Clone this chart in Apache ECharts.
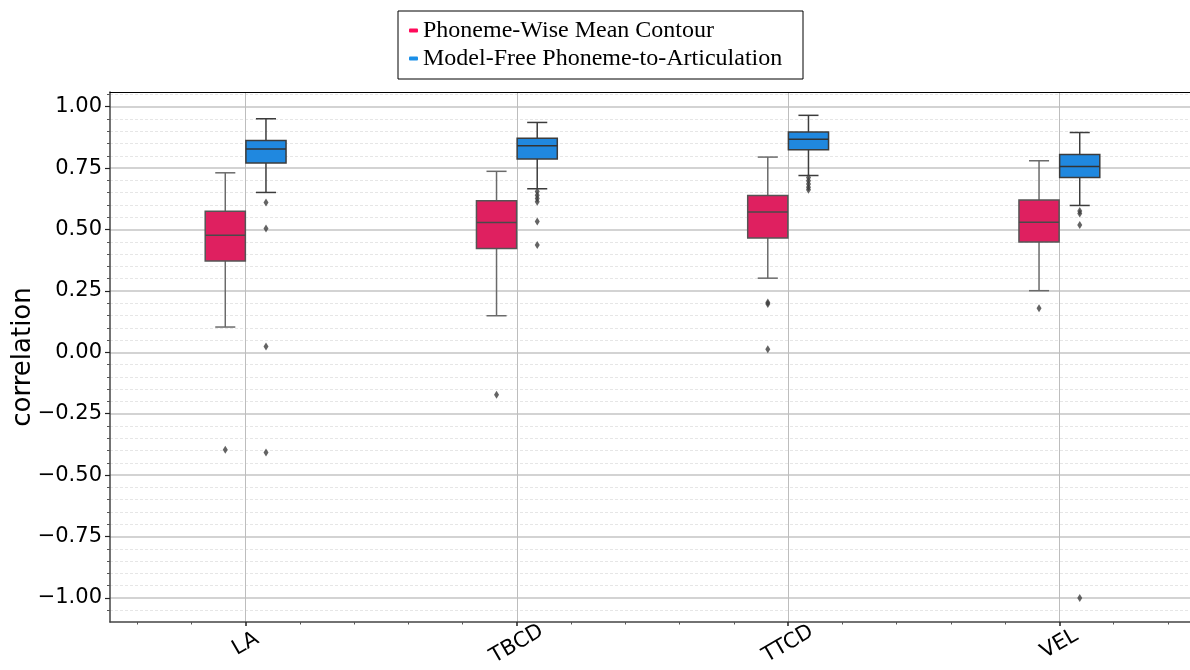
<!DOCTYPE html>
<html>
<head>
<meta charset="utf-8">
<script src="https://cdn.jsdelivr.net/npm/echarts@6/dist/echarts.min.js"></script>
<style>
html,body{margin:0;padding:0;background:#fff;}
#chart{width:1190px;height:670px;}
</style>
</head>
<body>
<div id="chart"></div>
<script>
// ---- data ----
const categories = ['LA', 'TBCD', 'TTCD', 'VEL'];
const seriesNames = ['Phoneme-Wise Mean Contour', 'Model-Free Phoneme-to-Articulation'];
// [lower whisker, Q1, median, Q3, upper whisker]
const pwmcBoxes = [
  [0.103, 0.372, 0.477, 0.574, 0.731],
  [0.149, 0.423, 0.529, 0.617, 0.737],
  [0.302, 0.466, 0.571, 0.639, 0.795],
  [0.251, 0.449, 0.530, 0.620, 0.780]
];
const p2aBoxes = [
  [0.651, 0.771, 0.828, 0.863, 0.951],
  [0.666, 0.787, 0.841, 0.872, 0.936],
  [0.720, 0.825, 0.868, 0.897, 0.965],
  [0.598, 0.712, 0.757, 0.806, 0.895]
];
// [category index, value]
const pwmcOutliers = [
  [0, -0.397],
  [1, -0.173],
  [2, 0.203], [2, 0.197], [2, 0.013],
  [3, 0.180]
];
const p2aOutliers = [
  [0, 0.610], [0, 0.504], [0, 0.024], [0, -0.408],
  [1, 0.655], [1, 0.640], [1, 0.626], [1, 0.613], [1, 0.533], [1, 0.437],
  [2, 0.712], [2, 0.699], [2, 0.685], [2, 0.672], [2, 0.662],
  [3, 0.575], [3, 0.565], [3, 0.518], [3, -1.000]
];
const yMajorTicks = [-1.00, -0.75, -0.50, -0.25, 0.00, 0.25, 0.50, 0.75, 1.00];
const yMinorTicks = [-1.05, -0.95, -0.90, -0.85, -0.80, -0.70, -0.65, -0.60, -0.55, -0.45, -0.40, -0.35, -0.30,
  -0.20, -0.15, -0.10, -0.05, 0.05, 0.10, 0.15, 0.20, 0.30, 0.35, 0.40, 0.45, 0.55, 0.60, 0.65, 0.70,
  0.80, 0.85, 0.90, 0.95, 1.05];
const xMajorTicks = [0, 1, 2, 3];
const xMinorTicks = [-0.4, -0.2, 0.2, 0.4, 0.6, 0.8, 1.2, 1.4, 1.6, 1.8, 2.2, 2.4, 2.6, 2.8, 3.2, 3.4];
const yRange = [-1.098, 1.060];

// ---- styling constants ----
const BOX_W = 0.148;
const PT_OFF = 0.075;
const pinkFill = '#DF2060', blueFill = '#2088DF';
const pinkIcon = '#FF0A5A', blueIcon = '#1A8FE8';

function boxRenderer(side, fill, lineColor, edgeColor, medColor) {
  return function (params, api) {
    const c = api.value(0);
    const x0 = side < 0 ? c - BOX_W - 0.001 : c + 0.001;
    const x1 = x0 + BOX_W;
    const xm = (x0 + x1) / 2;
    const cap = BOX_W / 4;
    const lo = api.value(1), q1 = api.value(2), med = api.value(3), q3 = api.value(4), hi = api.value(5);
    const pLo = api.coord([xm, lo]), pQ1 = api.coord([xm, q1]), pQ3 = api.coord([xm, q3]), pHi = api.coord([xm, hi]);
    const capL = api.coord([xm - cap, 0])[0], capR = api.coord([xm + cap, 0])[0];
    const bL = api.coord([x0, 0])[0], bR = api.coord([x1, 0])[0];
    const pMed = api.coord([xm, med]);
    const lw = 1.5;
    return {
      type: 'group',
      children: [
        { type: 'line', shape: { x1: pQ3[0], y1: pQ3[1], x2: pHi[0], y2: pHi[1] }, style: { stroke: lineColor, lineWidth: lw } },
        { type: 'line', shape: { x1: pQ1[0], y1: pQ1[1], x2: pLo[0], y2: pLo[1] }, style: { stroke: lineColor, lineWidth: lw } },
        { type: 'line', shape: { x1: capL, y1: pHi[1], x2: capR, y2: pHi[1] }, style: { stroke: lineColor, lineWidth: lw } },
        { type: 'line', shape: { x1: capL, y1: pLo[1], x2: capR, y2: pLo[1] }, style: { stroke: lineColor, lineWidth: lw } },
        { type: 'rect', shape: { x: bL, y: pQ3[1], width: bR - bL, height: pQ1[1] - pQ3[1] }, style: { fill: fill, stroke: edgeColor, lineWidth: lw } },
        { type: 'line', shape: { x1: bL, y1: pMed[1], x2: bR, y2: pMed[1] }, style: { stroke: medColor, lineWidth: lw } }
      ]
    };
  };
}

const fmtY = v => (v < 0 ? '\u2212' : '') + Math.abs(v).toFixed(2);
const tickFont = { fontFamily: 'DejaVu Sans', fontSize: 21, color: '#000' };

const chart = echarts.init(document.getElementById('chart'));
chart.setOption({
  animation: false,
  backgroundColor: '#fff',
  grid: { left: 110, right: -5, top: 92, bottom: 48, containLabel: false, outerBoundsMode: 'none' },
  legend: {
    left: 398, top: 11,
    orient: 'vertical',
    padding: [7, 14, 8, 11],
    itemGap: 3,
    itemWidth: 9, itemHeight: 4,
    icon: 'roundRect',
    borderColor: '#000', borderWidth: 1, borderRadius: 0,
    backgroundColor: '#fff',
    textStyle: { fontFamily: 'Liberation Serif', fontSize: 24, color: '#000', lineHeight: 25, width: 366 },
    data: [
      { name: seriesNames[0], itemStyle: { color: pinkIcon } },
      { name: seriesNames[1], itemStyle: { color: blueIcon } }
    ]
  },
  xAxis: [
    {
      type: 'value', min: -0.5, max: 3.5, position: 'bottom',
      axisLine: { show: true, onZero: false, lineStyle: { color: '#444', width: 1.5 } },
      axisTick: { show: true, customValues: xMajorTicks, length: 4, lineStyle: { color: '#222', width: 1.5 } },
      axisLabel: {
        show: true, customValues: xMajorTicks, rotate: 30, align: 'center', verticalAlign: 'middle',
        margin: 22, formatter: v => categories[Math.round(v)], ...tickFont
      },
      splitLine: { show: true, lineStyle: { color: '#bdbdbd', width: 1 } }
    },
    {
      type: 'value', min: -0.5, max: 3.5, position: 'bottom',
      axisLine: { show: false, onZero: false },
      axisTick: { show: true, customValues: xMinorTicks, length: 2.5, lineStyle: { color: '#555', width: 1 } },
      axisLabel: { show: false },
      splitLine: { show: false }
    },
    {
      type: 'value', min: -0.5, max: 3.5, position: 'top',
      axisLine: { show: true, onZero: false, lineStyle: { color: '#000', width: 1.2 } },
      axisTick: { show: false }, axisLabel: { show: false }, splitLine: { show: false }
    }
  ],
  yAxis: [
    {
      type: 'value', min: yRange[0], max: yRange[1], position: 'left',
      name: 'correlation', nameLocation: 'middle', nameGap: 74, nameMoveOverlap: false,
      nameTextStyle: { fontFamily: 'DejaVu Sans', fontSize: 26, color: '#000' },
      axisLine: { show: true, onZero: false, lineStyle: { color: '#444', width: 1.5 } },
      axisTick: { show: true, customValues: yMajorTicks, length: 5, lineStyle: { color: '#222', width: 1.2 } },
      axisLabel: { show: true, customValues: yMajorTicks, formatter: fmtY, margin: 8, ...tickFont },
      splitLine: { show: true, lineStyle: { color: '#c4c4c4', width: 1.5 } }
    },
    {
      type: 'value', min: yRange[0], max: yRange[1], position: 'left',
      axisLine: { show: false, onZero: false },
      axisTick: { show: true, customValues: yMinorTicks, length: 3, lineStyle: { color: '#555', width: 1 } },
      axisLabel: { show: false },
      splitLine: { show: true, lineStyle: { color: '#e6e6e6', width: 1, type: [3, 2] } }
    }
  ],
  series: [
    {
      name: seriesNames[0], type: 'custom', xAxisIndex: 0, yAxisIndex: 0,
      itemStyle: { color: pinkIcon },
      renderItem: boxRenderer(-1, pinkFill, '#6a6a6a', '#555', '#4a4a4a'),
      encode: { x: 0, y: [1, 2, 3, 4, 5] },
      data: pwmcBoxes.map((b, i) => [i].concat(b)),
      z: 3
    },
    {
      name: seriesNames[1], type: 'custom', xAxisIndex: 0, yAxisIndex: 0,
      itemStyle: { color: blueIcon },
      renderItem: boxRenderer(1, blueFill, '#3c3c3c', '#3c3c3c', '#333'),
      encode: { x: 0, y: [1, 2, 3, 4, 5] },
      data: p2aBoxes.map((b, i) => [i].concat(b)),
      z: 3
    },
    {
      type: 'scatter', xAxisIndex: 0, yAxisIndex: 0,
      symbol: 'diamond', symbolSize: [5, 8],
      itemStyle: { color: '#3d3d3d' },
      data: pwmcOutliers.map(p => [p[0] - PT_OFF, p[1]]),
      z: 4
    },
    {
      type: 'scatter', xAxisIndex: 0, yAxisIndex: 0,
      symbol: 'diamond', symbolSize: [5, 8],
      itemStyle: { color: '#3d3d3d' },
      data: p2aOutliers.map(p => [p[0] + PT_OFF, p[1]]),
      z: 4
    }
  ]
});
</script>
</body>
</html>
